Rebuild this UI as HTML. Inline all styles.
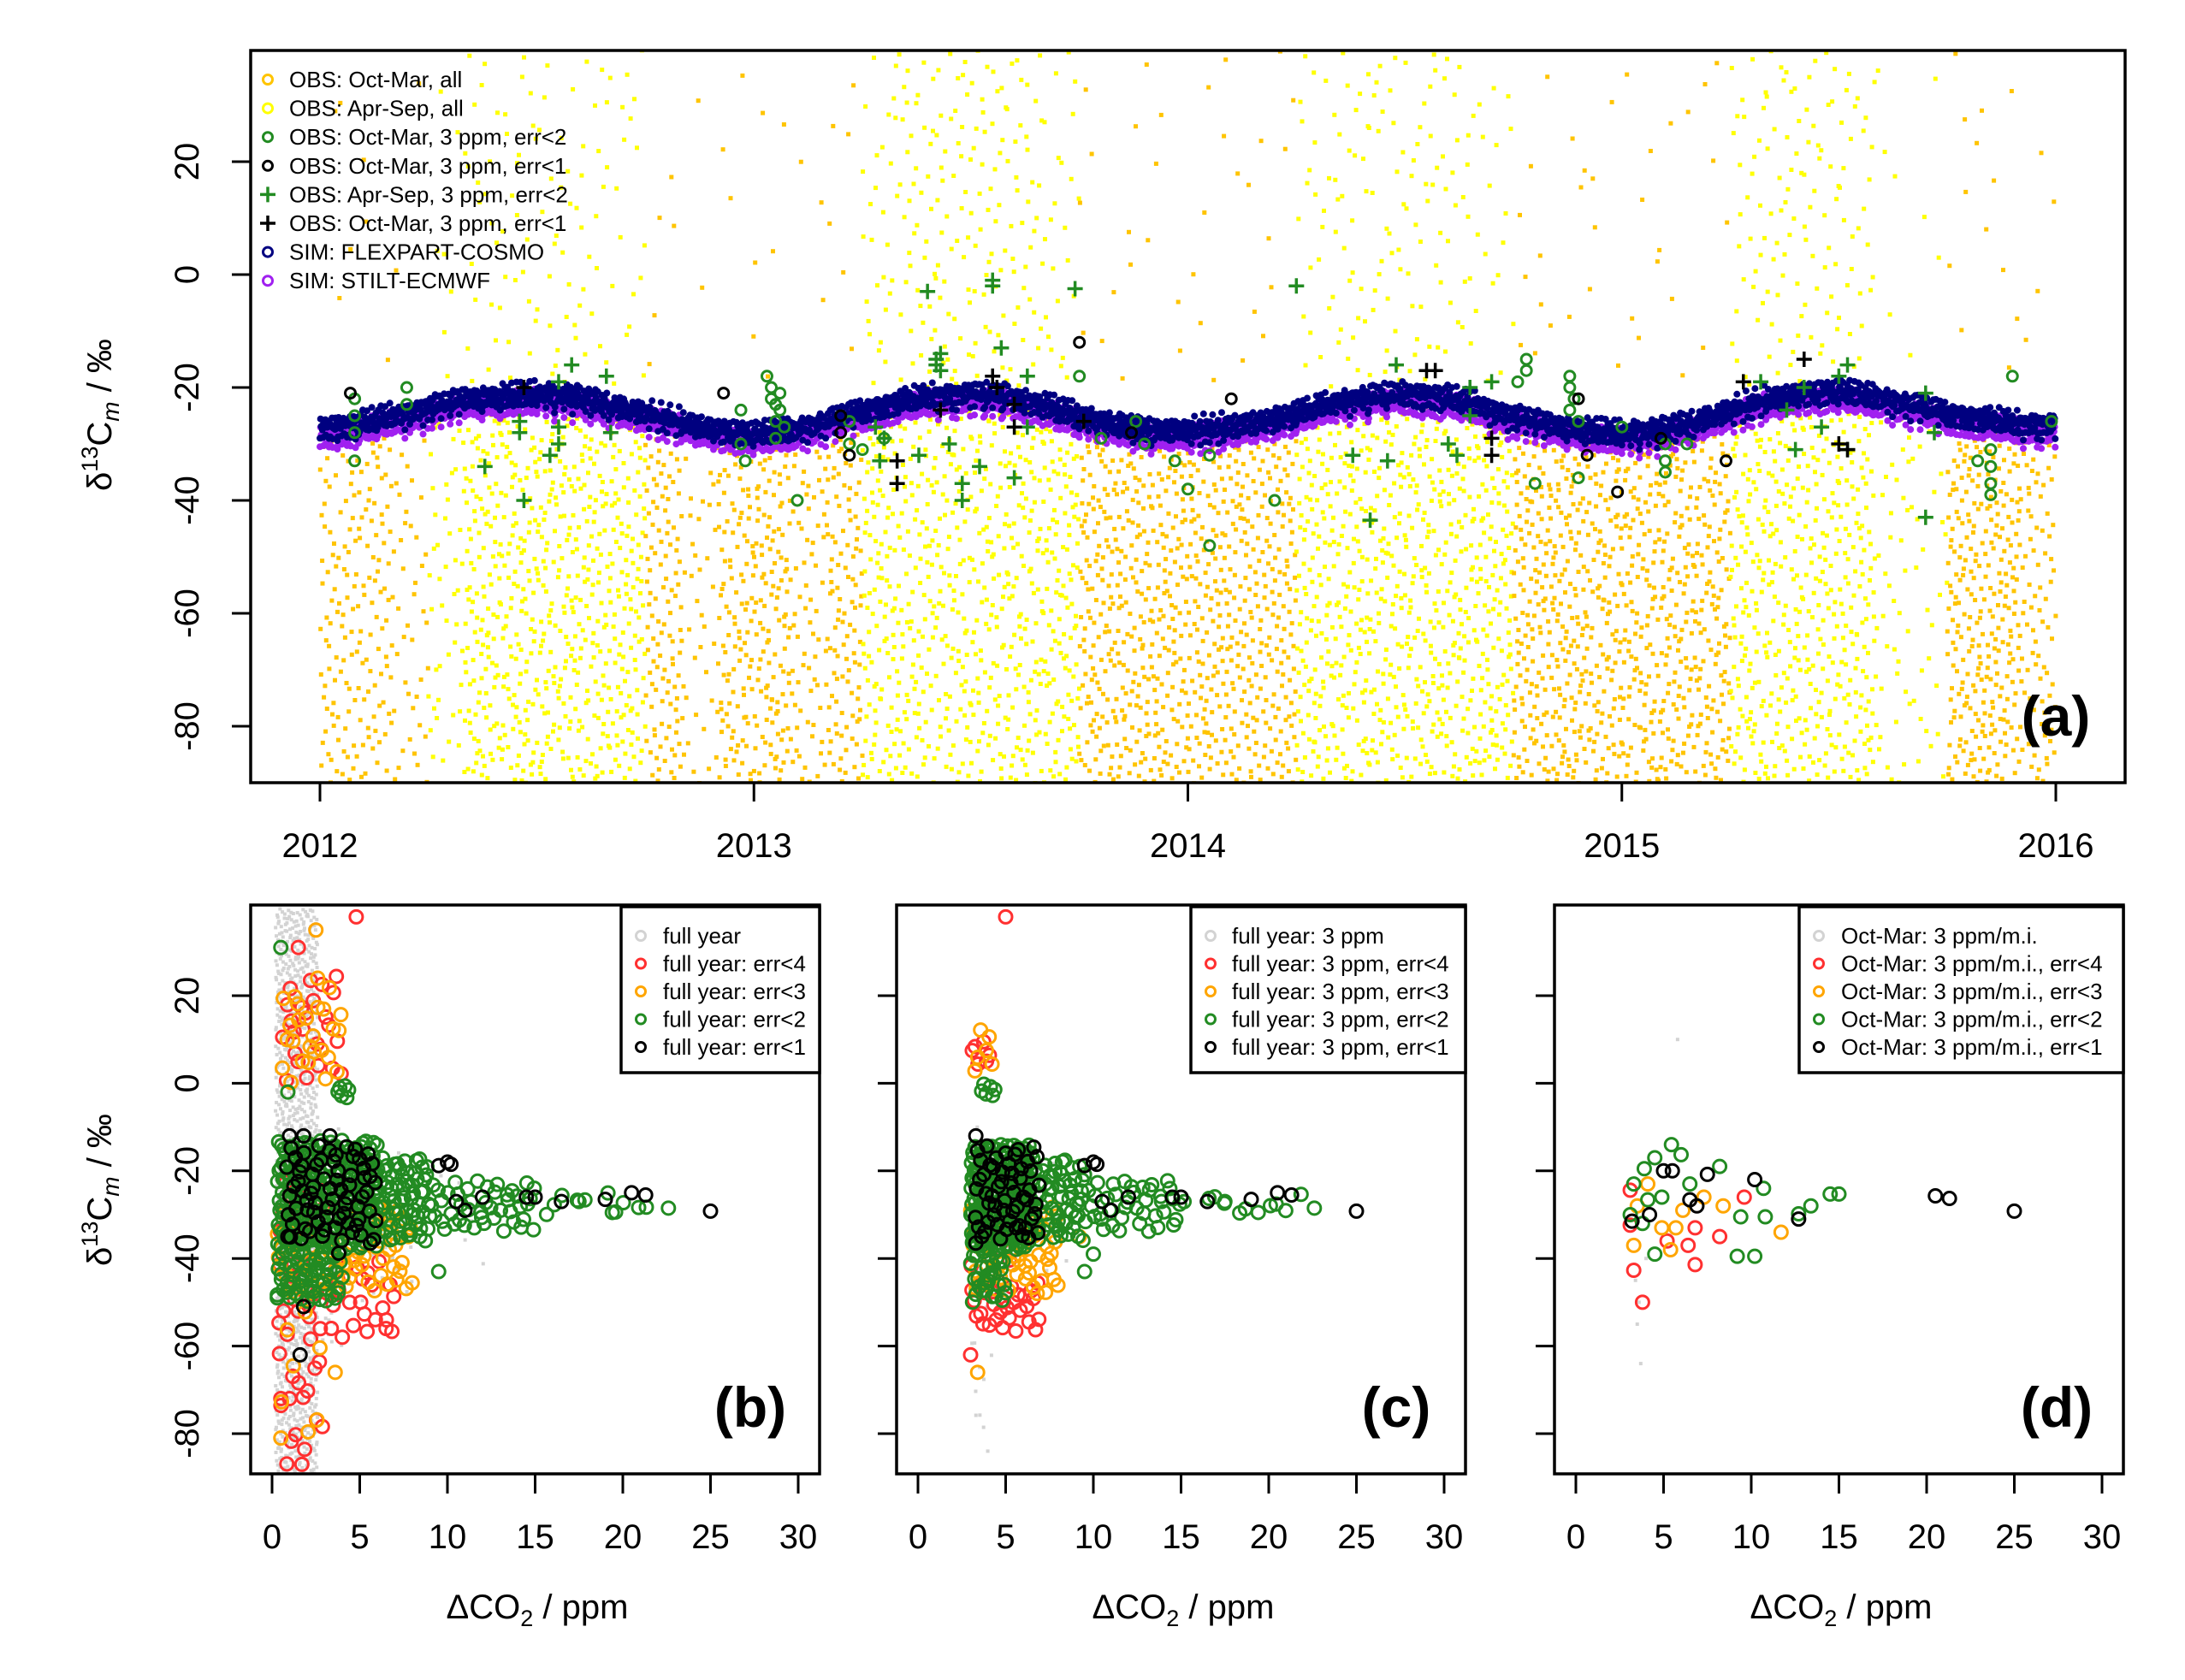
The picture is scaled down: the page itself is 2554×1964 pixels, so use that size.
<!DOCTYPE html>
<html><head><meta charset="utf-8"><style>
body{margin:0;background:#fff}
svg{display:block}
text{font-family:"Liberation Sans",sans-serif;fill:#000}
</style></head><body>
<svg id="fig" xmlns="http://www.w3.org/2000/svg" width="2554" height="1964" viewBox="0 0 2554 1964">
<rect width="2554" height="1964" fill="#fff"/>
<defs>
<clipPath id="clipA"><rect x="293" y="59" width="2191" height="856"/></clipPath>
<clipPath id="clipB"><rect x="293" y="1058" width="665" height="665"/></clipPath>
<clipPath id="clipC"><rect x="1048" y="1058" width="665" height="665"/></clipPath>
<clipPath id="clipD"><rect x="1817" y="1058" width="665" height="665"/></clipPath>
</defs>
<g id="gA" clip-path="url(#clipA)"></g>
<g id="gB" clip-path="url(#clipB)"></g>
<g id="gC" clip-path="url(#clipC)"></g>
<g id="gD" clip-path="url(#clipD)"></g>
<g id="axes"></g>
</svg>
<script>
// ---------- Panel (a) data ----------
const MONTH_COVERAGE = [
 0.6,0.6,0.3,0.4,1,1,1,1,1,0.8,0.3,0.8,
 0.9,0.5,0.8,1,1,1,1,1,1,0.9,0.9,0.9,
 0.9,0.9,0.9,1,1,1,1,1,1,1,1,0.9,
 0.9,0.9,0.9,1,1,1,1,0.3,0.2,1,1,0.6];
const MONTH_UPPER_FRAC = [
 0.04,0.04,0.04,0.12,0.15,0.15,0.15,0.15,0.12,0.05,0.04,0.04,
 0.04,0.04,0.05,0.2,0.3,0.3,0.3,0.25,0.15,0.05,0.04,0.04,
 0.04,0.04,0.05,0.15,0.2,0.2,0.2,0.15,0.12,0.05,0.04,0.04,
 0.04,0.04,0.05,0.2,0.25,0.25,0.2,0.15,0.1,0.05,0.04,0.04];
const SIM_FLEX = [
 -27,-26.5,-25,-23.5,-22,-21.5,-21,-21.5,-23,-24.5,-26,-27.5,
 -28,-27.5,-26,-24,-22.5,-21.5,-21,-21.5,-23,-25,-26.5,-27.5,
 -27.5,-27,-26,-24.5,-22.5,-21.5,-21,-21.5,-23,-25,-26.5,-27.5,
 -28,-27.5,-26,-24,-22,-21,-20.5,-21.5,-23,-24.5,-25.5,-26.5];
const SIM_STILT_OFFSET = -1.5;
const SIM_JITTER = [-2.2,1.4,-0.6,2.1,-1.3,0.4,-2.8,1.9,-0.2,0.9,-1.7,2.6,-0.9,0.2,1.2,-2.4,0.6,-1.1,2.3,-0.4,1.6,-3.2,0.1,-1.9,1.0,-0.7,2.9,-1.5,0.5,-3.6];
const OCTMAR_ERR2_CIRC = [[2012.08,-22],[2012.08,-25],[2012.08,-28],[2012.08,-33],[2012.2,-20],[2012.2,-23],[2012.97,-24],[2012.97,-30],[2012.98,-33],[2013.03,-18],[2013.04,-22],[2013.05,-26],[2013.05,-29],[2013.1,-40],[2013.22,-30],[2013.22,-26],[2013.25,-31],[2013.3,-29],[2013.75,-18],[2013.8,-29],[2013.88,-26],[2013.9,-30],[2013.97,-33],[2014.0,-38],[2014.05,-32],[2014.05,-48],[2014.2,-40],[2014.78,-15],[2014.78,-17],[2014.76,-19],[2014.8,-37],[2014.88,-18],[2014.88,-20],[2014.9,-26],[2014.9,-36],[2015.0,-27],[2015.1,-33],[2015.1,-30],[2015.1,-35],[2015.15,-30],[2015.85,-31],[2015.85,-34],[2015.85,-37],[2015.85,-39],[2015.82,-33],[2015.9,-18],[2015.99,-26],[2013.06,-24],[2013.07,-27],[2014.89,-22],[2013.04,-20],[2013.05,-23],[2013.06,-21],[2014.88,-24]];
const OCTMAR_ERR1_CIRC = [[2012.07,-21],[2012.93,-21],[2013.2,-25],[2013.2,-28],[2013.75,-12],[2013.87,-28],[2014.1,-22],[2014.9,-22],[2014.92,-32],[2014.99,-38.5],[2015.09,-29],[2015.24,-33],[2013.22,-32]];
const APRSEP_ERR2_CROSS = [[2012.38,-34],[2012.47,-40],[2012.46,-28],[2012.46,-26],[2012.53,-32],[2012.55,-30],[2012.55,-27],[2012.55,-19],[2012.58,-16],[2012.66,-18],[2012.67,-28],[2013.4,-3],[2013.42,-15],[2013.43,-14],[2013.45,-30],[2013.48,-37],[2013.48,-40],[2013.52,-34],[2013.55,-1],[2013.55,-2],[2013.57,-13],[2013.6,-36],[2013.63,-18],[2013.63,-27],[2013.74,-2.5],[2014.25,-2],[2014.38,-32],[2014.46,-33],[2014.48,-16],[2014.6,-30],[2014.62,-32],[2014.65,-20],[2014.65,-25],[2014.7,-19],[2015.32,-19],[2015.38,-24],[2015.4,-31],[2015.42,-20],[2015.46,-27],[2015.5,-18],[2015.52,-31],[2015.52,-16],[2015.7,-21],[2015.72,-28],[2015.7,-43],[2014.42,-43.5],[2013.38,-32],[2013.29,-33],[2013.28,-27],[2013.3,-29],[2013.42,-16],[2013.43,-17]];
const OCTMAR_ERR1_CROSS = [[2012.47,-20],[2013.43,-24],[2013.55,-18],[2013.56,-20],[2013.6,-27],[2013.6,-23],[2013.33,-37],[2013.33,-33],[2013.76,-26],[2014.55,-17],[2014.57,-17],[2014.7,-29],[2014.7,-32],[2015.28,-19],[2015.42,-15],[2015.5,-30],[2015.52,-31]];
const YEAR_TICKS = [2012,2013,2014,2015,2016];
const A_Y_TICKS = [20,0,-20,-40,-60,-80];

// ---------- Panels (b)(c)(d) data: clusters [x0,x1,y0,y1,count] + explicit points ----------
const B_GRAY = [[0.2,2.6,-90,40,1200],[0.5,4,-60,-10,150],[2,8,-50,-15,60],[2,13,-42,-20,20]];
const B_RED = [[0.3,7,-40,-58,40],[0.3,3,-58,-88,15],[0.5,4,0,25,25],[0.3,3,-20,-35,15]];
const B_RED_PTS = [[4.8,38],[1.5,31],[0.5,-72],[1.0,-72],[1.7,-87],[6.5,-56]];
const B_ORANGE = [[0.3,8,-28,-48,80],[0.5,4,0,22,25],[0.3,3,-45,-82,8]];
const B_ORANGE_PTS = [[2.5,35],[2.6,24],[3.6,-66],[0.5,-81]];
const B_GREEN = [[0.3,6,-13,-38,260],[6,9,-17,-36,70],[9,15,-22,-34,45],[15,22,-25,-30,10],[0.3,4,-38,-50,60],[3.6,4.4,-4,0,6]];
const B_GREEN_PTS = [[0.5,31],[22.6,-28.5],[19.4,-29.5],[17.5,-27],[9.5,-43],[0.3,-49],[0.9,-2]];
const B_BLACK = [[0.8,6,-14,-36,70]];
const B_BLACK_PTS = [[10,-18],[10.2,-18.5],[12,-26],[10.5,-27],[11,-29],[14.5,-26],[15,-26],[16.5,-27],[19,-26.5],[20.5,-25],[21.3,-25.5],[25,-29.2],[9.5,-18.8],[1.8,-51],[1.6,-62],[0.9,-35],[3.8,-38.8],[5.6,-36.5],[1,-12],[1.8,-12],[3.3,-12]];

const C_GRAY = [[3,4.2,-84,-10,25],[3,9,-45,-15,15]];
const C_RED = [[3,7,-45,-57,30],[3,6,-30,-42,12],[3,4.3,4,10,6]];
const C_RED_PTS = [[5,38],[3,-62]];
const C_ORANGE = [[3,8,-28,-48,60],[3,4.3,0,14,6]];
const C_ORANGE_PTS = [[3.4,-66],[6.8,-48],[9.2,-35]];
const C_GREEN = [[3,6.5,-14,-38,230],[6.5,9.5,-17,-36,60],[9.5,15,-22,-34,40],[15,22,-25,-30,10],[3,5,-38,-50,30],[3.5,4.5,-3,0,6]];
const C_GREEN_PTS = [[22.6,-28.5],[19.4,-29.5],[17.5,-27],[9.5,-43],[10,-39]];
const C_BLACK = [[3.2,7,-14,-36,55]];
const C_BLACK_PTS = [[10,-18],[10.2,-18.5],[12,-26],[10.5,-27],[11,-29],[14.5,-26],[15,-26],[16.5,-27],[19,-26.5],[20.5,-25],[21.3,-25.5],[25,-29.2],[9.5,-18.8],[3.3,-12],[3.3,-36.5],[5.6,-33]];

const D_GRAY_PTS = [[4,-40],[3.5,-55],[3.7,-64],[3.4,-45],[5.8,10],[3.6,-50]];
const D_RED_PTS = [[3.1,-24.4],[3.3,-42.7],[3.8,-50],[6.8,-33],[6.8,-41.4],[6.4,-37],[8.2,-35],[5.2,-36],[3.1,-32.4],[9.6,-26]];
const D_ORANGE_PTS = [[3.3,-37],[4.9,-33],[5.4,-38],[5.7,-33],[11.7,-34],[8.4,-28],[4.1,-23],[7.3,-26],[6.1,-29],[3.5,-28]];
const D_GREEN_PTS = [[5.45,-14],[6,-16.3],[8.2,-19],[3.9,-19.5],[4.5,-17],[10.7,-24],[14.5,-25.3],[15,-25.3],[13.4,-28],[12.7,-29.8],[10.8,-30.5],[9.4,-30.5],[9.2,-39.5],[10.2,-39.5],[4.5,-39],[3.1,-30],[3.3,-23],[4.1,-26.6],[6.5,-23],[4.9,-26],[3.8,-32]];
const D_BLACK_PTS = [[3.2,-31.5],[5,-20],[5.5,-20],[7.5,-20.8],[6.5,-26.6],[10.2,-22],[12.7,-31],[20.5,-25.7],[21.3,-26.3],[25,-29.2],[4.2,-30],[6.9,-28]];

const SC_X_TICKS = [0,5,10,15,20,25,30];
const SC_Y_TICKS = [20,0,-20,-40,-60,-80];

// ---------- helpers ----------
const NS = "http://www.w3.org/2000/svg";
function mk(tag, attrs, parent){const e=document.createElementNS(NS,tag);for(const k in attrs)e.setAttribute(k,attrs[k]);parent.appendChild(e);return e;}
function halton(i,b){let f=1,r=0;while(i>0){f/=b;r+=f*(i%b);i=Math.floor(i/b);}return r;}
const ax = (t)=>374+(t-2012)*507.25;
const ay = (v)=>321-6.6*v;
function sx(panel){const x0={b:318,c:1073,d:1842}[panel];return v=>x0+v*20.5;}
const sy = (v)=>1164-(v-20)*5.12;
const COL={gold:"#FFC400",yellow:"#FFFF00",green:"#228B22",black:"#000",red:"#FF3030",orange:"#FFA500",gray:"#D3D3D3",navy:"#000080",purple:"#A020F0"};

// ---------- panel a ----------
const gA=document.getElementById('gA');
let k=1;
for(let m=0;m<48;m++){
  const n=Math.round(145*MONTH_COVERAGE[m]);
  const mon=m%12; const summer=(mon>=3&&mon<=8);
  for(let i=0;i<n;i++,k++){
    const t=2012+(m+halton(k,2))/12;
    let v;
    if(halton(k,3)<MONTH_UPPER_FRAC[m]) v=-20+60*halton(k,5);
    else {const top=summer?-24:-28; v=-91+(top+91)*halton(k,5);}
    const r=mk('rect',{x:(ax(t)-2.5).toFixed(1),y:(ay(v)-2.5).toFixed(1),width:5,height:5,fill:summer?COL.yellow:COL.gold},gA);
    
    
  }
}
function simSeries(offset,color,name){
  const N=60;
  for(let m=0;m<48;m++){
    const next = m<47?SIM_FLEX[m+1]:SIM_FLEX[m];
    for(let j=0;j<N;j++){
      const f=j/N;
      const t=2012+(m+f)/12;
      const jit=SIM_JITTER[j%30]*0.55+SIM_JITTER[(j*7+m)%30]*0.35;
      const v=SIM_FLEX[m]+(next-SIM_FLEX[m])*f+offset+jit;
      const c=mk('circle',{cx:ax(t).toFixed(1),cy:ay(v).toFixed(1),r:4,fill:color},gA);
      
      
    }
  }
}
simSeries(SIM_STILT_OFFSET,COL.purple,'sim-stilt-point');
simSeries(0,COL.navy,'sim-flexpart-point');
function circ(g,x,y,r,col,sw,name){const c=mk('circle',{cx:x,cy:y,r:r,fill:'none',stroke:col,'stroke-width':sw},g);return c;}
function cross(g,x,y,a,col,name){const p=mk('path',{d:`M${x-a},${y}H${x+a}M${x},${y-a}V${y+a}`,stroke:col,'stroke-width':3.5,fill:'none'},g);}
OCTMAR_ERR2_CIRC.forEach(p=>circ(gA,ax(p[0]),ay(p[1]),6,COL.green,3,'obs-octmar-err2'));
OCTMAR_ERR1_CIRC.forEach(p=>circ(gA,ax(p[0]),ay(p[1]),6,COL.black,3,'obs-octmar-err1'));
APRSEP_ERR2_CROSS.forEach(p=>cross(gA,ax(p[0]),ay(p[1]),9,COL.green,'obs-aprsep-err2'));
OCTMAR_ERR1_CROSS.forEach(p=>cross(gA,ax(p[0]),ay(p[1]),9,COL.black,'obs-octmar-cross-err1'));

// ---------- scatter panels ----------
let kk=7;
function clusters(g,X,list,col,isGray,name){
  list.forEach(c=>{
    for(let i=0;i<c[4];i++,kk++){
      const x=c[0]+(c[1]-c[0])*halton(kk,2);
      const y=c[2]+(c[3]-c[2])*halton(kk,3);
      if(isGray){const r=mk('rect',{x:X(x)-2,y:sy(y)-2,width:4,height:4,fill:col},g);}
      else circ(g,X(x),sy(y),7.5,col,3,name);
    }
  });
}
function pts(g,X,list,col,isGray,name){
  list.forEach(p=>{
    if(isGray){const r=mk('rect',{x:X(p[0])-2,y:sy(p[1])-2,width:4,height:4,fill:col},g);}
    else circ(g,X(p[0]),sy(p[1]),7.5,col,3,name);
  });
}
const gB=document.getElementById('gB'),XB=sx('b');
clusters(gB,XB,B_GRAY,COL.gray,true,'b-gray-point');
clusters(gB,XB,B_RED,COL.red,false,'b-red-point');pts(gB,XB,B_RED_PTS,COL.red,false,'b-red-point');
clusters(gB,XB,B_ORANGE,COL.orange,false,'b-orange-point');pts(gB,XB,B_ORANGE_PTS,COL.orange,false,'b-orange-point');
clusters(gB,XB,B_GREEN,COL.green,false,'b-green-point');pts(gB,XB,B_GREEN_PTS,COL.green,false,'b-green-point');
clusters(gB,XB,B_BLACK,COL.black,false,'b-black-point');pts(gB,XB,B_BLACK_PTS,COL.black,false,'b-black-point');
const gC=document.getElementById('gC'),XC=sx('c');
clusters(gC,XC,C_GRAY,COL.gray,true,'c-gray-point');
clusters(gC,XC,C_RED,COL.red,false,'c-red-point');pts(gC,XC,C_RED_PTS,COL.red,false,'c-red-point');
clusters(gC,XC,C_ORANGE,COL.orange,false,'c-orange-point');pts(gC,XC,C_ORANGE_PTS,COL.orange,false,'c-orange-point');
clusters(gC,XC,C_GREEN,COL.green,false,'c-green-point');pts(gC,XC,C_GREEN_PTS,COL.green,false,'c-green-point');
clusters(gC,XC,C_BLACK,COL.black,false,'c-black-point');pts(gC,XC,C_BLACK_PTS,COL.black,false,'c-black-point');
const gD=document.getElementById('gD'),XD=sx('d');
pts(gD,XD,D_GRAY_PTS,COL.gray,true,'d-gray-point');
pts(gD,XD,D_RED_PTS,COL.red,false,'d-red-point');
pts(gD,XD,D_ORANGE_PTS,COL.orange,false,'d-orange-point');
pts(gD,XD,D_GREEN_PTS,COL.green,false,'d-green-point');
pts(gD,XD,D_BLACK_PTS,COL.black,false,'d-black-point');

// ---------- axes, frames, labels ----------
const G=document.getElementById('axes');
function line(x1,y1,x2,y2,name){const l=mk('line',{x1,y1,x2,y2,stroke:'#000','stroke-width':3},G);}
function frame(x,y,w,h,name){const r=mk('rect',{x,y,width:w,height:h,fill:'none',stroke:'#000','stroke-width':3.5},G);}
function txt(x,y,s,opts,name){const t=mk('text',Object.assign({x,y,'font-size':40},opts||{}),G);t.textContent=s;return t;}
frame(293,59,2191,856,'panel-a-frame');
YEAR_TICKS.forEach(yr=>{const x=ax(yr);line(x,915,x,937,'x-tick');txt(x,1002,String(yr),{'text-anchor':'middle'},'x-tick-label');});
A_Y_TICKS.forEach(v=>{const y=ay(v);line(293,y,271,y,'y-tick');txt(232,y,String(v),{'text-anchor':'middle',transform:`rotate(-90 232 ${y})`},'y-tick-label');});
txt(2403,860,'(a)',{'font-size':66,'font-weight':'bold','text-anchor':'middle'},'panel-a-label');
// legend a
const LEG_A=[['OBS: Oct-Mar, all','c',COL.gold],['OBS: Apr-Sep, all','c',COL.yellow],['OBS: Oct-Mar, 3 ppm, err<2','c',COL.green],['OBS: Oct-Mar, 3 ppm, err<1','c',COL.black],['OBS: Apr-Sep, 3 ppm, err<2','x',COL.green],['OBS: Oct-Mar, 3 ppm, err<1','x',COL.black],['SIM: FLEXPART-COSMO','c',COL.navy],['SIM: STILT-ECMWF','c',COL.purple]];
LEG_A.forEach((e,i)=>{const y=93+i*33.6;
  if(e[1]==='c'){const c=mk('circle',{cx:313,cy:y,r:5.5,fill:'none',stroke:e[2],'stroke-width':3},G);}
  else{const p=mk('path',{d:`M304,${y}H322M313,${y-9}V${y+9}`,stroke:e[2],'stroke-width':3.5},G);}
  txt(338,y+9,e[0],{'font-size':26},'legend-entry');});
function ylab(x,y,name){const t=mk('text',{x,y,'font-size':40,'text-anchor':'middle',transform:`rotate(-90 ${x} ${y})`},G);
 
 t.innerHTML='δ<tspan font-size="27" dy="-16">13</tspan><tspan dy="16">C</tspan><tspan font-size="28" font-style="italic" dy="9">m</tspan><tspan dy="-9"> / ‰</tspan>';}
ylab(130,485,'panel-a-y-axis-title');
ylab(130,1391,'panel-b-y-axis-title');
// scatter panels
const SP=[{p:'b',fx:293,leg:[726,749,775],labs:['full year','full year: err<4','full year: err<3','full year: err<2','full year: err<1']},
 {p:'c',fx:1048,leg:[1392,1415,1440],labs:['full year: 3 ppm','full year: 3 ppm, err<4','full year: 3 ppm, err<3','full year: 3 ppm, err<2','full year: 3 ppm, err<1']},
 {p:'d',fx:1817,leg:[2103,2126,2152],labs:['Oct-Mar: 3 ppm/m.i.','Oct-Mar: 3 ppm/m.i., err<4','Oct-Mar: 3 ppm/m.i., err<3','Oct-Mar: 3 ppm/m.i., err<2','Oct-Mar: 3 ppm/m.i., err<1']}];
const LCOL=[COL.gray,COL.red,COL.orange,COL.green,COL.black];
SP.forEach(s=>{
  frame(s.fx,1058,665,665,'panel-'+s.p+'-frame');
  const X=sx(s.p);
  SC_X_TICKS.forEach(v=>{line(X(v),1723,X(v),1746,'x-tick');txt(X(v),1810,String(v),{'text-anchor':'middle'},'x-tick-label');});
  SC_Y_TICKS.forEach(v=>{line(s.fx,sy(v),s.fx-22,sy(v),'y-tick');if(s.p==='b')txt(232,sy(v),String(v),{'text-anchor':'middle',transform:`rotate(-90 232 ${sy(v)})`},'y-tick-label');});
  txt(s.fx+335,1892,'',{'text-anchor':'middle'},'x-axis-title').innerHTML='ΔCO<tspan font-size="27" dy="9">2</tspan><tspan dy="-9"> / ppm</tspan>';
  txt(s.p==='b'?877:(s.p==='c'?1632:2404),1668,'('+s.p+')',{'font-size':66,'font-weight':'bold','text-anchor':'middle'},'panel-'+s.p+'-label');
  const lb=mk('rect',{x:s.leg[0],y:1060,width:s.fx+665-s.leg[0],height:194,fill:'#fff',stroke:'#000','stroke-width':3.5},G);
  
  s.labs.forEach((l,i)=>{const y=1094+i*32.5;
    const c=mk('circle',{cx:s.leg[1],cy:y,r:5.5,fill:'none',stroke:LCOL[i],'stroke-width':3},G);
    
    txt(s.leg[2],y+9,l,{'font-size':26},'legend-entry');});
});
</script>
</body></html>
